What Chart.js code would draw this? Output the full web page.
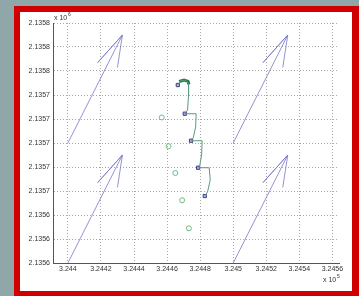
<!DOCTYPE html>
<html>
<head>
<meta charset="utf-8">
<script src="https://cdn.jsdelivr.net/npm/chart.js@4"></script>
<style>
    html, body { margin: 0; padding: 0; background: #8fa7a8; }
    #wrap { position: absolute; left: 0; top: 0; width: 359px; height: 296px; }
</style>
</head>
<body>
<div id="wrap"><canvas id="chart" width="359" height="296"></canvas></div>
<script>
// axis ticks (x in units of 1e5, y in units of 1e6 on the labels)
var xTicks = [324400, 324420, 324440, 324460, 324480, 324500, 324520, 324540, 324560];
var xTickLabels = ['3.244', '3.2442', '3.2444', '3.2446', '3.2448', '3.245', '3.2452', '3.2454', '3.2456'];
var yTicks = [2135600, 2135620, 2135640, 2135660, 2135680, 2135700, 2135720, 2135740, 2135760, 2135780, 2135800];
var yTickLabels = ['2.1356', '2.1356', '2.1356', '2.1357', '2.1357', '2.1357', '2.1357', '2.1357', '2.1358', '2.1358', '2.1358'];

// arrows: tail, tip, barb, tip, barb
var arrow1X = [324400, 324433, 324418, 324433, 324430];
var arrow1Y = [2135700, 2135790, 2135767, 2135790, 2135763];
var arrow2X = [324500, 324533, 324518, 324533, 324530];
var arrow2Y = [2135700, 2135790, 2135767, 2135790, 2135763];
var arrow3X = [324400, 324433, 324418, 324433, 324430];
var arrow3Y = [2135600, 2135690, 2135667, 2135690, 2135663];
var arrow4X = [324500, 324533, 324518, 324533, 324530];
var arrow4Y = [2135600, 2135690, 2135667, 2135690, 2135663];

// square markers
var squareX = [324466.5, 324470.7, 324474.5, 324478.8, 324482.8];
var squareY = [2135748.3, 2135724.4, 2135701.9, 2135679.4, 2135655.8];

// circle markers
var circleX = [324456.8, 324460.9, 324465.0, 324469.1, 324473.2];
var circleY = [2135721.3, 2135697.3, 2135675.0, 2135652.3, 2135628.9];

// green track
var trackX = [324466.5, 324467.9, 324470.9, 324473.0, 324473.0, 324472.4, 324470.7, 324477.6, 324477.3, 324475.8, 324474.5,
    324481.2, 324480.9, 324479.7, 324478.8, 324485.5, 324486.1, 324484.5, 324482.8];
var trackY = [2135748.3, 2135751.7, 2135752.5, 2135750.0, 2135740.0, 2135727.5, 2135724.4, 2135724.4, 2135713.3, 2135704.2, 2135701.9,
    2135701.9, 2135690.0, 2135680.8, 2135679.4, 2135679.4, 2135669.2, 2135659.2, 2135655.8];

// thick bit at the top of the track
var hookX = [324467.3, 324470.3, 324472.7, 324473.3];
var hookY = [2135751.3, 2135752.5, 2135751.3, 2135748.8];

function toPoints(xs, ys) {
    return xs.map(function (x, i) {
        return { x: x, y: ys[i] };
    });
}

function lineSet(xs, ys, color, width) {
    return {
        data: toPoints(xs, ys),
        showLine: true,
        borderColor: color,
        borderWidth: width,
        pointRadius: 0,
        tension: 0
    };
}

//Frame and exponent labels
var framePlugin = {
    id: 'frame',
    beforeDraw: function (chart) {
        var c = chart.ctx;
        c.save();
        c.fillStyle = '#8fa7a8';
        c.fillRect(0, 0, 359, 296);
        c.fillStyle = '#d10000';
        c.fillRect(14, 6, 345, 290);
        c.fillStyle = '#ffffff';
        c.fillRect(20, 12, 332, 279);
        c.restore();
    },
    afterDraw: function (chart) {
        var c = chart.ctx;
        c.save();
        c.fillStyle = '#333333';
        c.textBaseline = 'alphabetic';
        c.font = '7px "Liberation Sans", Arial, sans-serif';
        c.fillText('x 10', 54, 20);
        c.fillText('x 10', 323, 282);
        c.font = '5px "Liberation Sans", Arial, sans-serif';
        c.fillText('6', 68, 16);
        c.fillText('5', 337, 278);
        c.restore();
    }
};

var tickFont = { family: '"Liberation Sans", Arial, sans-serif', size: 7 };

var ctx = document.getElementById('chart');
var chart = new Chart(ctx, {
    type: 'scatter',
    data: {
        datasets: [
            lineSet(arrow1X, arrow1Y, 'rgba(120,120,200,0.8)', 1),
            lineSet(arrow2X, arrow2Y, 'rgba(120,120,200,0.8)', 1),
            lineSet(arrow3X, arrow3Y, 'rgba(120,120,200,0.8)', 1),
            lineSet(arrow4X, arrow4Y, 'rgba(120,120,200,0.8)', 1),
            lineSet(trackX, trackY, '#5a9a80', 1),
            lineSet(hookX, hookY, '#1f7a4a', 3),
            {
                data: toPoints(squareX, squareY),
                pointStyle: 'rect',
                pointRadius: 2.3,
                borderWidth: 1,
                borderColor: '#3f3f86',
                backgroundColor: '#b9b9dc'
            },
            {
                data: toPoints(circleX, circleY),
                pointStyle: 'circle',
                pointRadius: 2.5,
                borderWidth: 1,
                borderColor: '#6dbf86',
                backgroundColor: 'rgba(0,0,0,0)'
            }
        ]
    },
    options: {
        responsive: false,
        animation: false,
        layout: { padding: { left: 0, top: 23, right: 20, bottom: 0 } },
        plugins: {
            legend: { display: false },
            tooltip: { enabled: false }
        },
        scales: {
            x: {
                type: 'linear',
                min: 324391,
                max: 324564,
                afterFit: function (scale) { scale.height = 33; },
                afterBuildTicks: function (scale) {
                    scale.ticks = xTicks.map(function (v) { return { value: v }; });
                },
                ticks: {
                    autoSkip: false,
                    maxRotation: 0,
                    padding: 2,
                    color: '#333333',
                    font: tickFont,
                    callback: function (value) {
                        var i = xTicks.indexOf(value);
                        return i >= 0 ? xTickLabels[i] : '';
                    }
                },
                grid: {
                    color: '#a8a8a8',
                    lineWidth: 1,
                    drawTicks: false
                },
                border: { display: true, color: '#555555', width: 1, dash: [1, 2] }
            },
            y: {
                type: 'linear',
                min: 2135600,
                max: 2135800,
                afterFit: function (scale) { scale.width = 53; },
                afterBuildTicks: function (scale) {
                    scale.ticks = yTicks.map(function (v) { return { value: v }; });
                },
                ticks: {
                    autoSkip: false,
                    padding: 3,
                    color: '#333333',
                    font: tickFont,
                    callback: function (value) {
                        var i = yTicks.indexOf(value);
                        return i >= 0 ? yTickLabels[i] : '';
                    }
                },
                grid: {
                    color: '#a8a8a8',
                    lineWidth: 1,
                    drawTicks: false
                },
                border: { display: true, color: '#555555', width: 1, dash: [1, 2] }
            }
        }
    },
    plugins: [framePlugin]
});
</script>
</body>
</html>
